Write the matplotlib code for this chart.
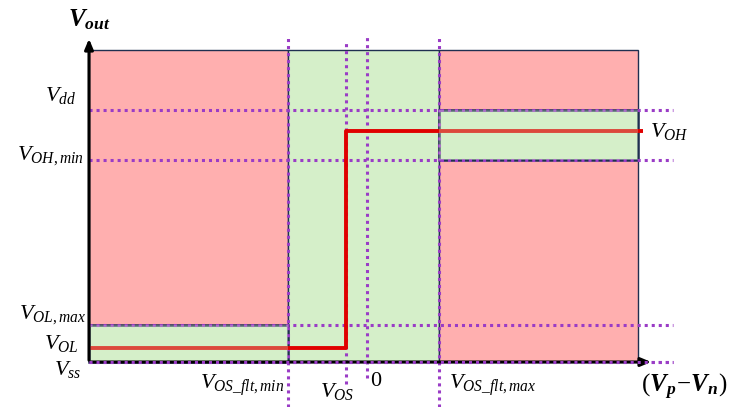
import matplotlib
matplotlib.use("Agg")
import matplotlib.pyplot as plt
from matplotlib.patches import Rectangle

plt.rcParams['mathtext.fontset'] = 'custom'
plt.rcParams['mathtext.it'] = 'Liberation Serif:italic'
plt.rcParams['mathtext.rm'] = 'Liberation Serif'
plt.rcParams['mathtext.bf'] = 'Liberation Serif:italic:bold'

# x positions (differential input), y levels (output)
x_left, x_right = -2.78, 2.71
x_flt_min, x_os, x_zero, x_flt_max = -0.79, -0.21, 0.0, 0.72
v_ss, v_ol, v_ol_max, v_oh_min, v_oh, v_dd, v_top = 0.0, 0.14, 0.37, 2.02, 2.31, 2.52, 3.12
x_line_end = 2.76
x_dot_end = 3.06

# transfer curve
curve_x = [x_left, x_os, x_os, x_line_end]
curve_y = [v_ol, v_ol, v_oh, v_oh]

h_levels = [v_dd, v_oh_min, v_ol_max, v_ss]
v_positions = [x_flt_min, x_os, x_zero, x_flt_max]
v_labels = [r'$V_{OS\_flt,min}$', r'$V_{OS}$', r'$0$', r'$V_{OS\_flt,max}$']
ylab_texts = [r'$V_{dd}$', r'$V_{OH,min}$', r'$V_{OL,max}$', r'$V_{OL}$', r'$V_{ss}$']

RED = '#ffafaf'
GREEN = '#d5efc9'
EDGE = '#1f2f50'
PURPLE = '#9a3cc6'

fig = plt.figure(figsize=(7.30, 4.07), dpi=100)
ax = fig.add_axes([0, 0, 1, 1])
ax.set_xlim(-3.67, 3.63)
ax.set_ylim(-0.45, 3.62)
ax.axis('off')

# regions
ax.add_patch(Rectangle((x_left, v_ss), x_flt_min - x_left, v_top - v_ss, fc=RED, ec=EDGE, lw=1.0, zorder=1))
ax.add_patch(Rectangle((x_flt_min, v_ss), x_flt_max - x_flt_min, v_top - v_ss, fc=GREEN, ec=EDGE, lw=1.0, zorder=1))
ax.add_patch(Rectangle((x_flt_max, v_ss), x_right - x_flt_max, v_top - v_ss, fc=RED, ec=EDGE, lw=1.0, zorder=1))
ax.add_patch(Rectangle((x_left, v_ss), x_flt_min - x_left, v_ol_max - v_ss, fc=GREEN, ec=EDGE, lw=1.8, zorder=2))
ax.add_patch(Rectangle((x_flt_max, v_oh_min), x_right - x_flt_max, v_dd - v_oh_min, fc=GREEN, ec=EDGE, lw=1.8, zorder=2))

# dotted guide lines
dot = (0, (1, 1.3))
for y in h_levels:
    ax.plot([x_left, x_dot_end], [y, y], color=PURPLE, lw=2.2, ls=dot, zorder=4)
v_tops = [3.24, 3.21, 3.28, 3.24]
v_bottoms = [-0.45, -0.22, -0.16, -0.45]
for x, t, b in zip(v_positions, v_tops, v_bottoms):
    ax.plot([x, x], [b, t], color=PURPLE, lw=2.2, ls=dot, zorder=4)

# transfer curve
ax.plot(curve_x, curve_y, color='#e00000', lw=2.8, zorder=5, solid_capstyle='butt')
ax.add_patch(Rectangle((x_left, v_ss), x_flt_min - x_left, v_ol_max - v_ss, fc=GREEN, ec='none', alpha=0.3, zorder=6))
ax.add_patch(Rectangle((x_flt_max, v_oh_min), x_right - x_flt_max, v_dd - v_oh_min, fc=GREEN, ec='none', alpha=0.3, zorder=6))

# axes arrows
ax.annotate('', xy=(x_left, 3.26), xytext=(x_left, v_ss - 0.01),
            arrowprops=dict(arrowstyle='-|>,head_length=0.6,head_width=0.25', color='black', lw=2.2), zorder=7)
ax.annotate('', xy=(2.87, v_ss), xytext=(x_left - 0.01, v_ss),
            arrowprops=dict(arrowstyle='-|>,head_length=0.6,head_width=0.25', color='black', lw=2.2), zorder=7)
ax.plot([x_left, x_dot_end], [v_ss, v_ss], color=PURPLE, lw=2.2, ls=dot, zorder=8)

# labels on y
fs = 16
y_label_pos = [(-2.91, 2.66), (-2.83, 2.06), (-2.81, 0.47), (-2.88, 0.19), (-2.86, -0.07)]
for (x, y), s in zip(y_label_pos, ylab_texts):
    ax.text(x, y, s, ha='right', va='center', fontsize=fs, zorder=9)

# labels on x
x_label_pos = [(-0.83, -0.23), (-0.30, -0.30), (0.09, -0.18), (0.82, -0.23)]
x_has = ['right', 'center', 'center', 'left']
for (x, y), s, ha in zip(x_label_pos, v_labels, x_has):
    ax.text(x, y, s, ha=ha, va='center', fontsize=fs, zorder=9)

ax.text(2.83, v_oh, r'$V_{OH}$', ha='left', va='center', fontsize=fs, zorder=9)
ax.text(-2.99, 3.42, r'$\mathbf{V_{out}}$', ha='left', va='center', fontsize=18, zorder=9)
ax.text(2.74, -0.25, r'$(\mathbf{V_{p}}\!-\!\mathbf{V_{n}})$', ha='left', va='center', fontsize=18, zorder=9)

fig.savefig('out.png', dpi=100)
